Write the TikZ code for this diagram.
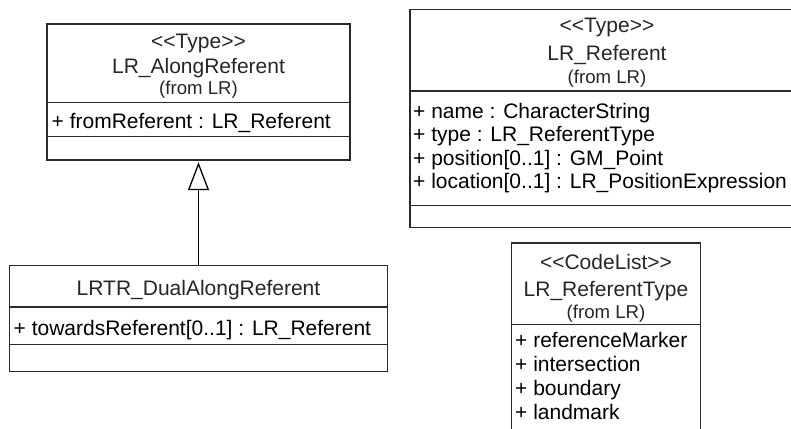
\documentclass[tikz,border=0pt]{standalone}
\usepackage{fontspec}
\newfontfamily\umlfont{Liberation Sans}
\usetikzlibrary{arrows.meta}
\definecolor{linegray}{HTML}{2A2A2A}
\definecolor{hdrgray}{HTML}{262626}
\begin{document}
\begin{tikzpicture}[x=1pt,y=-1pt,
  box/.style={draw=linegray, line width=1.3pt, inner sep=0pt, rectangle},
  sep/.style={draw=linegray, line width=1.3pt},
  hdr/.style={font=\umlfont\fontsize{21}{24}\selectfont, text=hdrgray, inner sep=0pt, anchor=base},
  frm/.style={font=\umlfont\fontsize{18.6}{22}\selectfont, text=hdrgray, inner sep=0pt, anchor=base},
  attr/.style={font=\umlfont\fontsize{21}{24}\selectfont, text=black, inner sep=0pt, anchor=base west},
  gen/.style={-{Triangle[open, length=28pt, width=21pt, fill=white]}, line width=1.3pt, draw=black, shorten >=1.5pt}
]
\useasboundingbox (0,0) rectangle (791,428);
\clip (0,0) rectangle (791,428);

% LR_AlongReferent
\node[box, minimum width=303pt, minimum height=136pt] (A) at (198.5,92) {};
\draw[sep] ([yshift=-79.3pt]A.north west) -- ([yshift=-79.3pt]A.north east);
\draw[sep] ([yshift=-113.3pt]A.north west) -- ([yshift=-113.3pt]A.north east);
\node[hdr] (Ast) at (198.5,48.3) {<<Type>>};
\node[hdr] (Anm) at (198.5,73.3) {LR\_AlongReferent};
\node[frm] (Afr) at (198.5,94) {(from LR)};
\node[attr] (Aa1) at (51.5,128.3) {+ fromReferent : LR\_Referent};

% LRTR_DualAlongReferent
\node[box, minimum width=378pt, minimum height=106pt] (B) at (198.5,318.7) {};
\draw[sep] ([yshift=-42pt]B.north west) -- ([yshift=-42pt]B.north east);
\draw[sep] ([yshift=-79.3pt]B.north west) -- ([yshift=-79.3pt]B.north east);
\node[hdr] (Bnm) at (198.5,295.7) {LRTR\_DualAlongReferent};
\node[attr] (Ba1) at (13.5,335) {+ towardsReferent[0..1] : LR\_Referent};

% LR_Referent
\node[box, minimum width=394pt, minimum height=218.4pt] (C) at (607,118.5) {};
\draw[sep] ([yshift=-82.4pt]C.north west) -- ([yshift=-82.4pt]C.north east);
\draw[sep] ([yshift=-196.7pt]C.north west) -- ([yshift=-196.7pt]C.north east);
\node[hdr] (Cst) at (607,33) {<<Type>>};
\node[hdr] (Cnm) at (607,60.7) {LR\_Referent};
\node[frm] (Cfr) at (607,83) {(from LR)};
\node[attr] (Ca1) at (413,118.3) {+ name : CharacterString};
\node[attr] (Ca2) at (413,141.7) {+ type : LR\_ReferentType};
\node[attr] (Ca3) at (413,165) {+ position[0..1] : GM\_Point};
\node[attr] (Ca4) at (413,188.3) {+ location[0..1] : LR\_PositionExpression};

% LR_ReferentType
\node[box, minimum width=189pt, minimum height=217pt] (D) at (606,351.5) {};
\draw[sep] ([yshift=-82pt]D.north west) -- ([yshift=-82pt]D.north east);
\node[hdr] (Dst) at (606,269.7) {<<CodeList>>};
\node[hdr] (Dnm) at (606,296.3) {LR\_ReferentType};
\node[frm] (Dfr) at (606,318) {(from LR)};
\node[attr] (Da1) at (515,347.5) {+ referenceMarker};
\node[attr] (Da2) at (515,371.3) {+ intersection};
\node[attr] (Da3) at (515,395) {+ boundary};
\node[attr] (Da4) at (515,419) {+ landmark};

% generalization
\draw[gen] (B.north) -- (A.south);
\end{tikzpicture}
\end{document}
